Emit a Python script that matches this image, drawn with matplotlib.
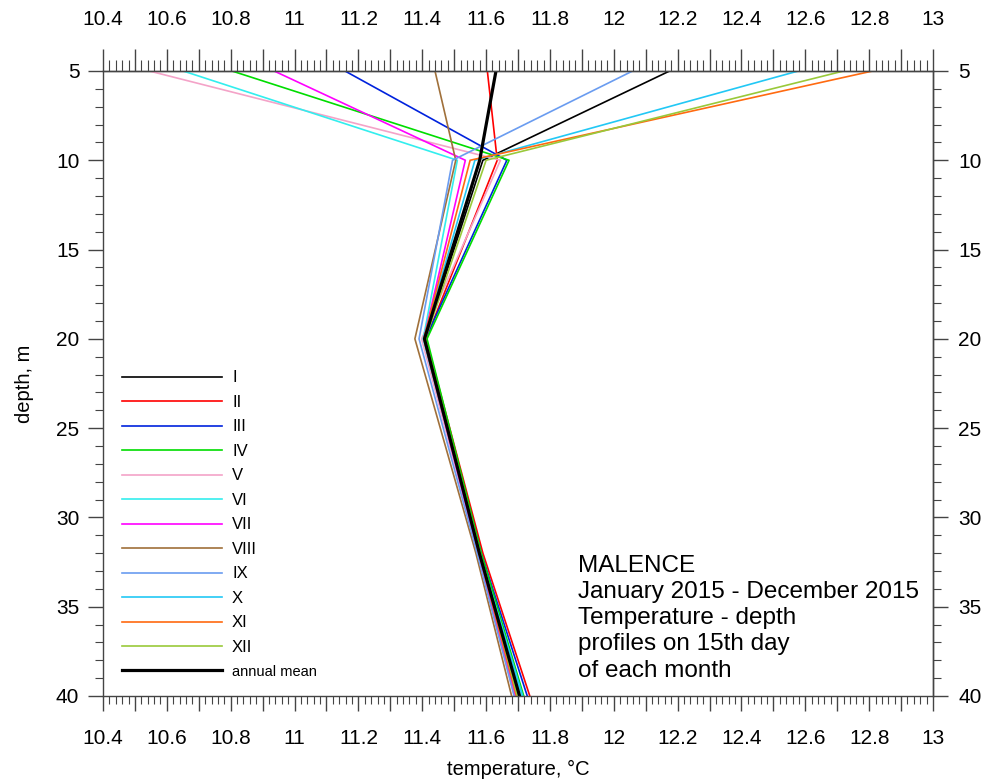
import matplotlib
matplotlib.use('Agg')
import matplotlib.pyplot as plt
from matplotlib.ticker import MultipleLocator, FuncFormatter

plt.rcParams['font.family'] = ['Liberation Sans', 'DejaVu Sans']

# depths of the profile points, m
depth = [5, 10, 20, 32, 40]

# temperature, degC, per month (I..XII) and annual mean
t_I = [12.175, 11.590, 11.408, 11.580, 11.703]
t_II = [11.604, 11.635, 11.412, 11.590, 11.737]
t_III = [11.158, 11.665, 11.410, 11.585, 11.729]
t_IV = [10.804, 11.672, 11.415, 11.585, 11.718]
t_V = [10.545, 11.645, 11.398, 11.575, 11.688]
t_VI = [10.651, 11.510, 11.403, 11.578, 11.712]
t_VII = [10.936, 11.535, 11.405, 11.575, 11.692]
t_VIII = [11.440, 11.505, 11.377, 11.568, 11.680]
t_IX = [12.059, 11.495, 11.390, 11.572, 11.688]
t_X = [12.578, 11.565, 11.405, 11.580, 11.715]
t_XI = [12.811, 11.550, 11.405, 11.578, 11.695]
t_XII = [12.720, 11.600, 11.410, 11.582, 11.698]
t_mean = [11.631, 11.580, 11.407, 11.579, 11.705]

labels = ['I', 'II', 'III', 'IV', 'V', 'VI', 'VII', 'VIII', 'IX', 'X', 'XI', 'XII', 'annual mean']
series = [t_I, t_II, t_III, t_IV, t_V, t_VI, t_VII, t_VIII, t_IX, t_X, t_XI, t_XII, t_mean]
colors = ['#000000', '#ff0000', '#0022dd', '#00dd00', '#f4a3c8', '#33eeee', '#ff00ff',
          '#a0703a', '#6a9cf0', '#22c8f5', '#ff6a10', '#99c93a', '#000000']
widths = [1.2, 1.2, 1.2, 1.2, 1.2, 1.2, 1.2, 1.2, 1.2, 1.2, 1.2, 1.2, 2.3]

fig = plt.figure(figsize=(9.95, 7.8), dpi=100)
ax = fig.add_axes([0.1035, 0.1077, 0.8342, 0.8013])

for lab, vals, c, w in zip(labels, series, colors, widths):
    ax.plot(vals, depth, color=c, lw=w, label=lab)

ax.set_xlim(10.4, 13.0)
ax.set_ylim(40, 5)

def xfmt(v, pos):
    k = round(v * 10)
    if k % 2:
        return ''
    return '%g' % round(v, 1)

ax.xaxis.set_major_locator(MultipleLocator(0.1))
ax.xaxis.set_minor_locator(MultipleLocator(0.02))
ax.xaxis.set_major_formatter(FuncFormatter(xfmt))
ax.yaxis.set_major_locator(MultipleLocator(5))
ax.yaxis.set_minor_locator(MultipleLocator(1))

ax.tick_params(axis='x', which='major', direction='out', length=11, width=1,
               color='#444444', labelsize=15, pad=13)
ax.tick_params(axis='x', which='minor', direction='out', length=6, width=0.8, color='#444444')
ax.tick_params(axis='y', which='major', direction='out', length=11, width=1,
               color='#444444', labelsize=15, pad=6)
ax.tick_params(axis='y', which='minor', direction='out', length=6, width=0.8, color='#444444')

top = ax.secondary_xaxis('top')
top.xaxis.set_major_locator(MultipleLocator(0.1))
top.xaxis.set_minor_locator(MultipleLocator(0.02))
top.xaxis.set_major_formatter(FuncFormatter(xfmt))
top.tick_params(axis='x', which='major', direction='out', length=16, width=1,
                color='#444444', labelsize=15, pad=14)
top.tick_params(axis='x', which='minor', direction='out', length=8, width=0.8, color='#444444')

right = ax.secondary_yaxis('right')
right.yaxis.set_major_locator(MultipleLocator(5))
right.yaxis.set_minor_locator(MultipleLocator(1))
right.tick_params(axis='y', which='major', direction='out', length=11, width=1,
                  color='#444444', labelsize=15, pad=7)
right.tick_params(axis='y', which='minor', direction='out', length=6, width=0.8, color='#444444')

for a in (ax, top, right):
    for s in a.spines.values():
        s.set_color('#444444')
        s.set_linewidth(1)

ax.set_xlabel('temperature, °C', fontsize=14.5, labelpad=8)
ax.set_ylabel('depth, m', fontsize=14.5, labelpad=16)

leg = ax.legend(loc='upper left', bbox_to_anchor=(0.023, 0.521), frameon=False,
                fontsize=12, handlelength=6.0, handletextpad=0.6, labelspacing=0.57,
                borderpad=0, borderaxespad=0)
leg.get_texts()[-1].set_fontsize(10.5)

ax.text(0.572, 0.226, 'MALENCE\nJanuary 2015 - December 2015\nTemperature - depth\n'
        'profiles on 15th day\nof each month', transform=ax.transAxes,
        ha='left', va='top', fontsize=17.5, linespacing=1.25)

fig.savefig('out.png', dpi=100)
